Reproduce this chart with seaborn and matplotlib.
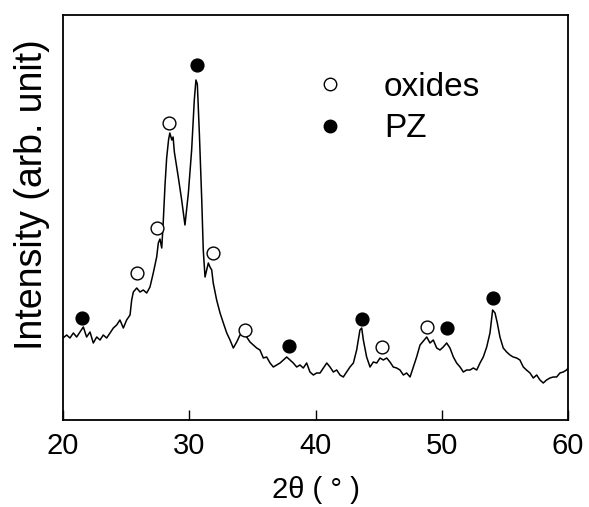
import matplotlib
matplotlib.use("Agg")
import matplotlib.pyplot as plt
from matplotlib.lines import Line2D
import seaborn as sns
import pandas as pd

# XRD pattern (2-theta in degrees, intensity in arbitrary units)
two_theta = [
    20.00, 20.29, 20.55, 20.82, 21.08, 21.35, 21.61, 21.87, 22.14, 22.40,
    22.67, 22.93, 23.19, 23.46, 23.72, 23.99, 24.25, 24.51, 24.78, 25.04,
    25.31, 25.44, 25.57, 25.84, 26.10, 26.36, 26.63, 26.89, 27.15, 27.42,
    27.55, 27.68, 27.82, 27.94, 28.08, 28.21, 28.36, 28.46, 28.62, 28.72,
    28.82, 29.13, 29.40, 29.66, 29.93, 30.19, 30.40, 30.53, 30.64, 30.80,
    30.99, 31.11, 31.25, 31.38, 31.51, 31.64, 31.78, 31.90, 32.17, 32.44,
    32.70, 32.97, 33.23, 33.49, 33.76, 34.02, 34.28, 34.55, 34.81, 35.07,
    35.34, 35.60, 35.87, 36.13, 36.40, 36.66, 36.93, 37.19, 37.45, 37.72,
    37.98, 38.24, 38.51, 38.77, 39.03, 39.30, 39.56, 39.83, 40.09, 40.36,
    40.62, 40.89, 41.15, 41.41, 41.68, 41.94, 42.20, 42.47, 42.73, 43.00,
    43.26, 43.52, 43.66, 43.79, 44.05, 44.32, 44.58, 44.85, 45.11, 45.37,
    45.64, 45.90, 46.16, 46.43, 46.69, 46.96, 47.22, 47.49, 47.75, 48.01,
    48.28, 48.54, 48.81, 49.07, 49.33, 49.60, 49.86, 50.12, 50.39, 50.65,
    50.92, 51.18, 51.45, 51.71, 51.97, 52.24, 52.50, 52.77, 53.03, 53.29,
    53.56, 53.82, 54.03, 54.22, 54.40, 54.61, 54.87, 55.14, 55.40, 55.66,
    55.93, 56.19, 56.46, 56.71, 56.99, 57.25, 57.52, 57.78, 58.04, 58.30,
    58.57, 58.83, 59.10, 59.36, 59.62, 59.89, 60.00,
]
intensity = [
    82, 85, 82, 87, 83, 88, 93, 83, 88, 77,
    83, 80, 85, 82, 87, 92, 95, 100, 92, 100,
    105, 120, 128, 132, 128, 130, 127, 133, 147, 163,
    177, 181, 172, 198, 235, 262, 280, 287, 280, 283,
    268, 243, 220, 195, 227, 270, 320, 340, 336, 287,
    220, 170, 143, 150, 157, 153, 150, 137, 120, 107,
    97, 87, 80, 72, 78, 85, 87, 83, 78, 75,
    72, 70, 62, 63, 57, 53, 55, 57, 60, 63,
    60, 57, 53, 55, 52, 57, 48, 45, 47, 47,
    52, 57, 53, 48, 50, 45, 43, 48, 53, 57,
    70, 90, 92, 80, 63, 53, 58, 57, 62, 60,
    62, 58, 53, 52, 50, 45, 47, 43, 53, 63,
    75, 79, 83, 77, 80, 72, 70, 73, 77, 72,
    63, 57, 53, 48, 50, 50, 52, 50, 57, 63,
    73, 87, 110, 107, 97, 83, 72, 68, 65, 63,
    62, 60, 53, 50, 47, 42, 45, 40, 37, 40,
    42, 43, 43, 47, 48, 50, 52,
]

# Peak assignments
oxides_x = [25.84, 27.42, 28.42, 31.85, 34.40, 45.24, 48.80]
oxides_y = [147, 192, 297, 167, 90, 73, 93]
pz_x = [21.48, 30.59, 37.93, 43.66, 50.39, 54.09]
pz_y = [102, 355, 74, 101, 92, 122]

x_ticks = [20, 30, 40, 50, 60]

sns.set_theme(style="white")
plt.rcParams["font.family"] = ["Liberation Sans", "DejaVu Sans"]
plt.rcParams["text.color"] = "black"
plt.rcParams["axes.labelcolor"] = "black"
plt.rcParams["xtick.color"] = "black"

fig = plt.figure(figsize=(5.89, 5.07), dpi=100)
ax = fig.add_axes([63 / 589, 1 - 420 / 507, 505 / 589, 405 / 507])

pattern = pd.DataFrame({"two_theta": two_theta, "intensity": intensity})
sns.lineplot(data=pattern, x="two_theta", y="intensity", ax=ax,
             color="black", linewidth=1.1, sort=False)

sns.scatterplot(x=oxides_x, y=oxides_y, ax=ax, marker="o", s=85,
                facecolor="white", edgecolor="black", linewidth=1.0, zorder=3)
sns.scatterplot(x=pz_x, y=pz_y, ax=ax, marker="o", s=85,
                color="black", edgecolor="black", linewidth=1.0, zorder=3)

ax.set_xlim(20, 60)
ax.set_ylim(0, 405)
ax.set_xticks(x_ticks)
ax.set_xticklabels([str(t) for t in x_ticks])
ax.set_yticks([])
ax.tick_params(axis="x", direction="in", length=7, width=1.0, pad=9,
               labelsize=21, colors="black", bottom=True)
for sp in ax.spines.values():
    sp.set_color("black")
    sp.set_linewidth(1.3)

ax.set_xlabel("2θ ( ° )", fontsize=21, labelpad=11)
ax.set_ylabel("Intensity (arb. unit)", fontsize=27)
ax.yaxis.set_label_coords(-0.026, 0.556)

handles = [
    Line2D([], [], linestyle="none", marker="o", markersize=9,
           markerfacecolor="white", markeredgecolor="black", markeredgewidth=1.0),
    Line2D([], [], linestyle="none", marker="o", markersize=9,
           markerfacecolor="black", markeredgecolor="black"),
]
ax.legend(handles, ["oxides", "PZ"], loc="upper left",
          bbox_to_anchor=(0.4957, 0.86), frameon=False, fontsize=24,
          handlelength=1.0, handletextpad=1.12, labelspacing=0.32,
          borderpad=0, borderaxespad=0)

fig.savefig("out.png", dpi=100)
